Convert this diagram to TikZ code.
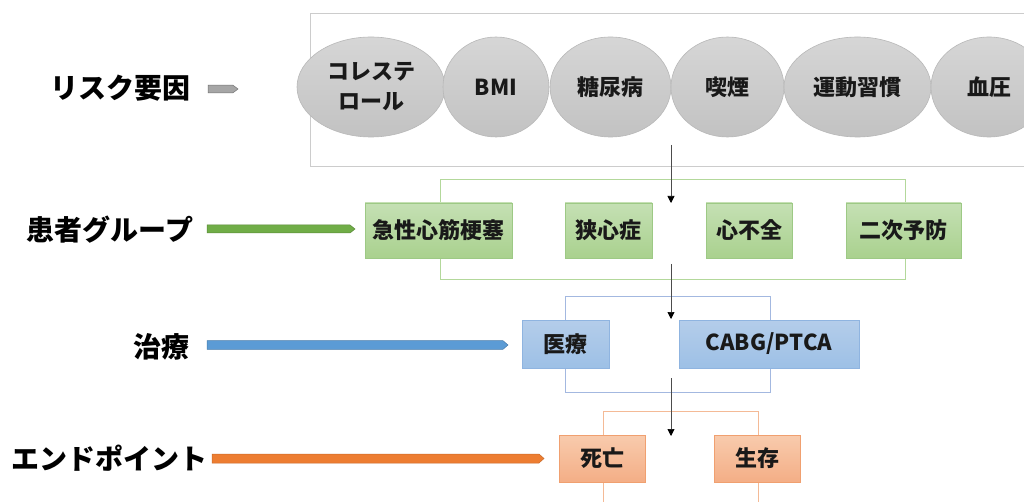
\documentclass[tikz,border=0pt]{standalone}
\usepackage{fontspec}
\newfontfamily\jp{Noto Sans CJK JP}
\usetikzlibrary{shapes.geometric,arrows.meta}
\definecolor{ellTop}{HTML}{D6D6D6}
\definecolor{ellBot}{HTML}{C2C2C2}
\definecolor{ellLine}{HTML}{B8B8B8}
\definecolor{grTop}{HTML}{C5E0B4}
\definecolor{grBot}{HTML}{A9D18E}
\definecolor{grLine}{HTML}{9DC985}
\definecolor{blTop}{HTML}{B4CDEA}
\definecolor{blBot}{HTML}{9DC0E6}
\definecolor{blLine}{HTML}{8FB4E0}
\definecolor{orTop}{HTML}{F8CBAD}
\definecolor{orBot}{HTML}{F4AE86}
\definecolor{orLine}{HTML}{F0A070}
\definecolor{brGray}{HTML}{CCCCCC}
\definecolor{brGreen}{HTML}{B3D89B}
\definecolor{brBlue}{HTML}{A3B8E0}
\definecolor{brOrange}{HTML}{F4BA96}
\definecolor{arGray}{HTML}{A6A6A6}
\definecolor{arGreen}{HTML}{70AD47}
\definecolor{arBlue}{HTML}{5B9BD5}
\definecolor{arOrange}{HTML}{ED7D31}
\begin{document}
\begin{tikzpicture}[x=1pt,y=-1pt,
  lbl/.style={font=\jp\bfseries\fontsize{28}{32}\selectfont, inner sep=0pt},
  txt/.style={font=\jp\bfseries\fontsize{22}{30}\selectfont, align=center, inner sep=0pt, text=black!90},
  oval/.style={txt, ellipse, minimum height=100pt, draw=ellLine, line width=0.6pt, top color=ellTop, bottom color=ellBot},
  gbox/.style={txt, rectangle, draw=grLine, line width=0.6pt, top color=grTop, bottom color=grBot, minimum height=55pt},
  bbox/.style={txt, rectangle, draw=blLine, line width=0.6pt, top color=blTop, bottom color=blBot, minimum height=48pt},
  obox/.style={txt, rectangle, draw=orLine, line width=0.6pt, top color=orTop, bottom color=orBot, minimum height=47pt},
  bracket/.style={line width=0.9pt},
  varrow/.style={draw=black!70, line width=0.7pt, -{Triangle[width=7pt,length=7pt,black]}},
  barrow/.style={line width=0.5pt}
]
\useasboundingbox (0,0) rectangle (1024,502);
\clip (0,0) rectangle (1024,502);
\fill[white] (0,0) rectangle (1024,502);

% brackets (behind boxes)
\draw[bracket, brGray] (1030,13) -- (310,13) -- (310,166) -- (1030,166);
\draw[bracket, brGreen] (440,179) rectangle (905,279);
\draw[bracket, brBlue] (565,296) rectangle (770,392);
\draw[bracket, brOrange] (603,510) -- (603,411) -- (758,411) -- (758,510);

% risk factors
\node[oval, minimum width=148pt] (chol) at (371,87) {コレステ\\ロール};
\node[oval, minimum width=106pt] (bmi) at (496,87) {BMI};
\node[oval, minimum width=121pt] (diab) at (610.5,87) {糖尿病};
\node[oval, minimum width=113pt] (smoke) at (727.5,87) {喫煙};
\node[oval, minimum width=147pt] (exer) at (857.5,87) {運動習慣};
\node[oval, minimum width=116pt] (bp) at (989,87) {血圧};

% patient groups
\node[gbox, minimum width=147pt] (ami) at (438.5,230.5) {急性心筋梗塞};
\node[gbox, minimum width=87pt] (ap) at (608.5,230.5) {狭心症};
\node[gbox, minimum width=86pt] (hf) at (749,230.5) {心不全};
\node[gbox, minimum width=115pt] (sp) at (903.5,230.5) {二次予防};

% treatment
\node[bbox, minimum width=87pt] (med) at (565.5,344) {医療};
\node[bbox, minimum width=180pt] (cabg) at (769,344) {CABG/PTCA};

% endpoints
\node[obox, minimum width=86pt] (death) at (602,458.5) {死亡};
\node[obox, minimum width=86pt] (surv) at (757,458.5) {生存};

% vertical arrows
\coordinate (v1s) at (671,145); \coordinate (v1e) at (671,203);
\coordinate (v2s) at (671,264); \coordinate (v2e) at (671,319);
\coordinate (v3s) at (671,378); \coordinate (v3e) at (671,436);
\draw[varrow] (v1s) -- (v1e);
\draw[varrow] (v2s) -- (v2e);
\draw[varrow] (v3s) -- (v3e);

% left labels
\node[lbl] (lrisk) at (120,88) {リスク要因};
\node[lbl] (lpat) at (110,230) {患者グループ};
\node[lbl] (ltrt) at (161,347) {治療};
\node[lbl] (lend) at (109,458) {エンドポイント};

% left block arrows
\newcommand{\blockarrow}[6]{% fill, line, x0, x1, y, half-height
  \filldraw[barrow, fill=#1, draw=#2] (#3,#5-#6) -- (#4-5,#5-#6) -- (#4,#5) -- (#4-5,#5+#6) -- (#3,#5+#6) -- cycle;}
\blockarrow{arGray}{black!55}{208}{238}{89}{3.8}
\blockarrow{arGreen}{arGreen!80!black}{207}{355}{229}{4}
\blockarrow{arBlue}{arBlue!80!black}{207}{508}{345}{4.3}
\blockarrow{arOrange}{arOrange!85!black}{212}{544}{458.5}{4.5}
\end{tikzpicture}
\end{document}
